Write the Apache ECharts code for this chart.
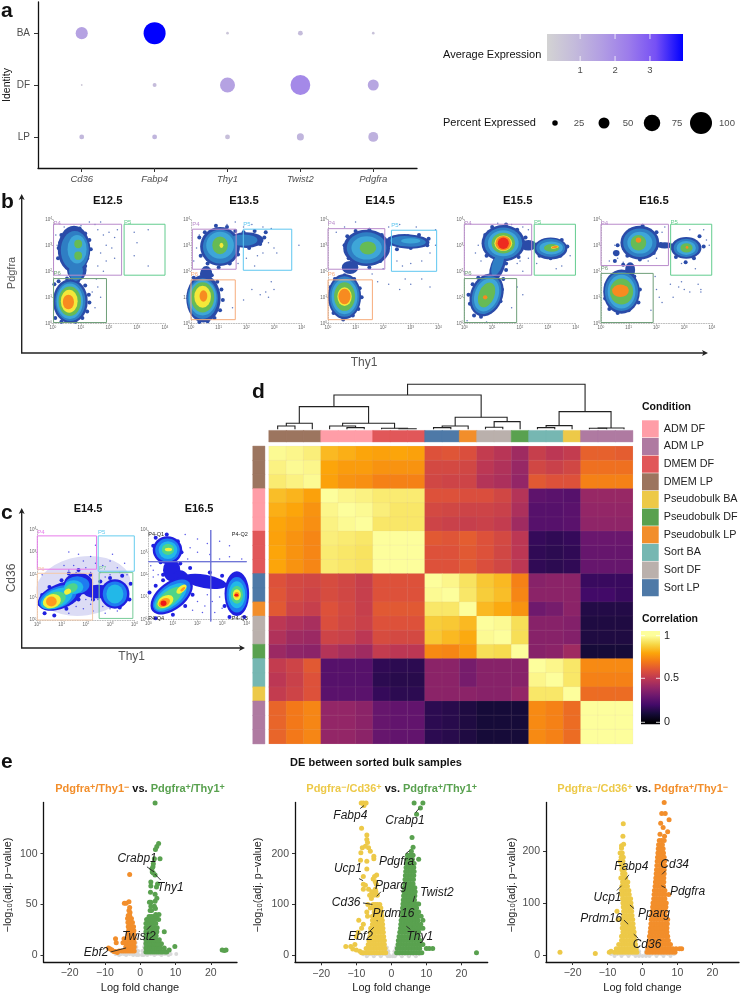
<!DOCTYPE html>
<html><head><meta charset="utf-8">
<script src="https://cdn.jsdelivr.net/npm/echarts@6/dist/echarts.min.js"></script>
<style>html,body{margin:0;padding:0;background:#fff}#c{width:741px;height:996px}</style>
</head><body><div id="c"></div>
<script>
const FONT='"Liberation Sans",Arial,sans-serif';
/* ---------- panel a ---------- */
const dotGenes=['Cd36','Fabp4','Thy1','Twist2','Pdgfra'];
const dotIdentity=['LP','DF','BA'];
const dotPercent=[[22,22,22,32,45],[8,18,68,90,50],[55,100,12,22,12]];
const dotExpression=[[0.9,1.0,0.7,1.0,1.1],[0.4,0.8,1.5,2.1,1.4],[1.5,3.95,0.5,0.8,0.6]];
const exprColors=['#D3D3D3','#C4BBDB','#B29EE3','#9C7CEB','#7650F5','#0000FF'];
const legendPercent=[25,50,75,100];
const exprTicks=[1,2,3];
/* ---------- panels b, c: flow cytometry density layers [x,y,rx,ry,rotation,level] in decades ---------- */
const facsLevels=['#8A93D6','#2A4BA8','#2F7EC4','#3EA6D8','#66BB55','#F4E83A','#F78B20','#EE2B20'];
const facsLevelsC=['#DCDCF5','#2020E0','#1E7CF0','#22B8E8','#4FD48A','#F2F23A','#FF9A1E','#F01818'];
const e125Layers=[[.62,.85,.62,.85,0,1],[.62,.85,.54,.76,0,2],[.6,.85,.47,.68,0,3],[.6,.85,.4,.57,0,4],[.58,.85,.3,.44,0,5],[.55,.82,.2,.28,0,6],
 [.75,2.85,.58,.9,0,1],[.85,2.05,.35,.42,0,1],[.78,2.8,.5,.75,0,2],[.82,2.0,.25,.36,0,2],[.86,2.85,.34,.55,0,3],[.9,3.05,.14,.16,0,4],[.9,2.6,.14,.16,0,4]];
const e135Layers=[[.45,.95,.62,.92,0,1],[.42,.95,.55,.78,0,2],[.42,.98,.5,.68,0,3],[.42,1,.42,.58,0,4],[.42,1.02,.3,.42,0,5],[.45,1.05,.14,.22,0,6],
 [1.05,2.95,.72,.75,0,1],[2,3.2,.62,.3,0,1],[.55,1.9,.22,.3,0,1],[1.05,2.95,.62,.65,0,2],[1.9,3.2,.5,.22,0,2],[1.05,3,.5,.52,0,3],[1.05,3,.28,.34,0,4],[1.1,3,.07,.1,0,5]];
const e145Layers=[[.6,1.03,.6,.87,0,1],[.6,1.03,.54,.78,0,2],[.6,1.03,.47,.68,0,3],[.6,1.03,.38,.55,0,4],[.6,1.03,.26,.36,0,5],[.6,1.03,.22,.3,0,6],
 [1.4,2.9,.85,.7,0,1],[.8,2.15,.3,.25,0,1],[2.9,3.15,.78,.28,-3,1],[1.4,2.9,.72,.6,0,2],[2.9,3.15,.65,.2,-3,2],[1.4,2.9,.55,.45,0,3],[3,3.17,.35,.1,0,3],[1.45,2.9,.3,.25,0,4]];
const e155Layers=[[1.4,3.08,.78,.7,0,1],[2.3,3,.3,.2,0,1],[1.2,2.2,.25,.62,-20,1],[.8,1.09,.58,.85,-22,1],[3.1,2.88,.6,.42,0,1],
 [1.4,3.08,.68,.6,0,2],[1.2,2.3,.18,.5,-20,2],[.8,1.09,.5,.76,-22,2],[3.1,2.9,.52,.35,0,2],
 [1.4,3.08,.55,.5,0,3],[.8,1.09,.42,.66,-22,3],[3.12,2.9,.42,.25,0,3],[1.4,3.08,.42,.4,0,4],[.8,1.09,.28,.5,-22,4],[3.14,2.9,.28,.15,0,4],
 [1.4,3.08,.32,.3,0,5],[3.25,2.93,.14,.05,10,5],[1.4,3.08,.28,.28,0,6],[.75,1,.08,.08,0,6],[3.25,2.93,.12,.04,10,6],[1.4,3.08,.2,.22,0,7]];
const e165Layers=[[.74,1.22,.66,.85,0,1],[1.4,3.1,.7,.65,0,1],[1.05,2.05,.18,.3,0,1],[2.3,3,.3,.12,0,1],[3.07,2.9,.55,.42,0,1],[.55,2.7,.12,.12,0,1],
 [.74,1.22,.6,.75,0,2],[1.4,3.1,.6,.55,0,2],[3.07,2.9,.45,.35,0,2],[.74,1.22,.5,.65,0,3],[1.4,3.1,.45,.42,0,3],[3.07,2.9,.35,.27,0,3],
 [.74,1.22,.42,.5,0,4],[1.35,3.1,.28,.3,0,4],[3.08,2.9,.22,.18,0,4],[.7,1.25,.3,.24,0,6],[.85,1.33,.12,.1,0,6],[1.35,3.2,.1,.1,0,6],[3.1,2.92,.05,.05,0,6]];
const c145Layers=[[1.9,1.5,1.95,1.3,8,0],[.95,1.05,.98,.55,22,1],[1.7,1.6,.6,.48,0,1],[2.5,1.25,.6,.3,0,1],[3.2,1.15,.6,.65,0,1],[.85,1,.82,.46,22,2],[1.65,1.55,.5,.38,0,2],[3.2,1.15,.5,.55,0,2],
 [.8,.95,.7,.4,25,3],[1.5,1.45,.4,.3,0,3],[3.2,1.15,.35,.42,0,3],[.7,.88,.5,.33,25,4],[1.4,1.4,.28,.2,25,4],[.6,.83,.38,.3,20,5],[1.25,1.25,.15,.12,25,5],[.58,.82,.22,.22,0,6]];
const c165Layers=[[.78,3.1,.6,.62,0,1],[.95,2.2,.35,.5,0,1],[1.3,1.6,.4,.6,0,1],[.95,1.05,1,.62,38,1],[2.3,1.7,.9,.3,-10,1],[3.6,1.15,.5,1,0,1],
 [.78,3.1,.5,.52,0,2],[.95,1.05,.9,.52,38,2],[3.6,1.1,.42,.8,0,2],[.8,3.1,.38,.4,0,3],[.9,1,.78,.42,38,3],[3.6,1.1,.34,.6,0,3],
 [.8,3.13,.25,.25,0,4],[.85,.95,.65,.32,38,4],[3.6,1.1,.25,.4,0,4],[.82,3.13,.15,.08,0,5],[.7,.8,.35,.25,30,5],[1.35,1.35,.25,.14,40,5],[3.6,1.1,.16,.25,0,5],
 [.65,.75,.25,.18,30,6],[1.4,1.35,.12,.06,40,6],[3.6,1.1,.1,.12,0,6],[.62,.72,.12,.12,0,7],[3.58,1.08,.08,.06,0,7]];
/* sparse events (x,y pairs) */
const e125Sparse=[1.5,3.8,1.7,3.9,1.3,3.9,1.6,3.6,1.8,3.4,2,3.5,2.2,3.3,2.3,3.6,1.9,3,2.1,2.9,1.7,2.7,2.2,2.5,1.9,2.4,.1,3.4,.15,3,.2,2.7,1.6,2.2,1.8,2,1.6,1.4,1.7,1,1.5,.6,2.9,3.5,3.4,3.6,3,3.1,2.9,2.6,3.4,2.2,1.4,1.2,1.55,1.7,.4,3.7,1,3.75];
const e135Sparse=[1.6,3.9,1.9,3.7,2.2,3.8,1.3,3.8,.9,3.75,2.6,3.7,2.9,3.65,2.8,3.1,3,2.9,3.1,2.7,2.6,2.7,2.4,2.6,2,2.5,1.7,2.3,2.3,2.2,2.9,1.6,3,1.3,2.7,1.2,2.8,1,2.5,1.1,2.2,1.3,1.9,.9,1.5,.6,3.9,3,.2,2.9,.3,3.4,.1,2.4];
const e145Sparse=[2.2,3.7,2.6,3.8,3.2,3.7,3.9,3.6,3.7,2.7,3.4,2.4,3,2.3,2.7,2.2,2.5,2.4,2.8,1.7,3,1.5,2.6,1.3,2.2,1.5,3.4,1.7,3.7,1.4,1.8,1.6,1.6,1.9,2,2.1,3.9,3,.3,3.5,.6,3.7,1,3.9];
const e155Sparse=[1.2,3.85,1.7,3.8,2.1,3.7,2.3,3.6,.5,3,.4,2.7,.6,2.4,2,2.4,2.3,2.5,2.1,2,1.9,2.3,2.6,2.3,3.5,2.2,3.3,2.1,3.8,2.6,2.1,1.1,1.7,.6,1.9,1.4,.1,.1,.8,.05];
const e165Sparse=[.6,2.5,.45,2.7,.5,3,.3,2.4,.8,2.35,1.7,2.4,2,2.5,2.2,3.5,2.3,3.7,1.8,3.6,3.2,3.6,3.7,3.6,3.8,3.2,3.9,3,2.9,2.3,3.4,2.1,2,1.3,2.1,1,2.2,.8,2.6,1,2.8,1.4,2.9,1.6,3,1.3,3.2,1.2,3.5,1.5,3.6,1.2,3.6,1.3,2.5,1.5,1.95,1.8,1.8,.5];
const c145Sparse=[1.5,2.4,1.9,2.6,2.2,2.8,1.7,2.9,2.4,2.5,2,2.3,1.3,2.2,1.1,2.4,2.7,2.4,3,2.6,3.3,2.3,3.6,2.5,3.1,2.9,1.3,3,2.4,3.3,2.2,2.1,2.6,2.1,2.8,1.9,3,2,3.4,2.1,3.7,2,2,.9,2.2,.7,2.5,.9,1.6,.6,1.9,.5,2.3,.4,2.7,.6,3,.5,3.3,.4,2.8,.3,1.3,.3,2.1,1.2,1.6,2.1,.2,2];
const c165Sparse=[1.5,3.8,2,3.6,2.4,3.4,2.9,3.5,3.3,3.3,1.7,3.2,2,3,2.5,2.9,2.9,2.7,3.3,2.8,1.6,2.7,3.8,2.7,.1,2.4,.2,2.2,.4,2,2,.8,2.3,.6,2.6,.8,2.2,.3,2.7,.3,1.8,.4,2.4,1.1,2.9,1,3,.5,.2,1.9,.3,3.7];
/* small clumps on cluster rims (x,y pairs) */
const e125Rim=[.05,1.5,.2,1.62,.5,1.72,.9,1.65,1.15,1.45,1.28,1.1,1.3,.8,1.22,.45,1.05,.2,.8,.06,.3,.06,.08,.2,.18,2.5,.2,2.9,.25,3.1,.45,3.3,.65,3.55,.95,3.65,1.15,3.45,1.3,3.2,1.35,2.85,1.22,2.5,1.15,2.2,1.1,1.95,.5,2.15,.4,2.4,.3,3.4];
const e135Rim=[.85,.2,1.05,.5,1.15,.9,1.1,1.3,.95,1.6,.75,1.85,.4,1.9,.1,1.75,.6,.08,.3,.05,.3,3.3,.5,3.5,.9,3.75,1.3,3.7,1.6,3.55,.35,2.6,.6,2.3,1,2.15,1.4,2.3,1.7,2.65,2.1,2.9,2.5,3.05,2.65,3.3,2.7,3.5,2.3,3.55,1.9,3.5];
const e145Rim=[.1,1.4,.25,1.7,.6,1.85,.95,1.7,1.15,1.35,1.22,1,1.1,.55,.9,.3,.55,.15,.2,.4,.6,3,.7,3.35,1,3.55,1.5,3.6,1.95,3.4,2.2,3,.75,2.5,1,2.25,1.5,2.15,1.9,2.4,2.4,3.3,2.9,3.35,3.3,3.4,3.65,3.25,3.6,3,3,2.9,2.5,2.85];
const e155Rim=[.75,3.4,1,3.7,1.5,3.8,1.9,3.6,2.2,3.3,2.4,3.1,.8,2.6,1.95,2.55,1.5,2.3,.9,1.8,1.4,1.7,1.5,2.05,.2,.75,.15,1.1,.3,1.5,.5,1.75,1,1.65,1.35,1.3,1.3,.85,1,.5,.6,.25,.35,.3,2.6,2.9,2.65,3.05,3,3.2,3.5,3.2,3.7,2.95,3.45,2.6,3.1,2.5,2.7,2.6];
const e165Rim=[.15,.95,.2,1.5,.45,1.85,.9,1.95,1.2,1.8,1.4,1.3,1.35,.8,1,.5,.6,.4,.3,.55,.85,3.3,1.1,3.6,1.5,3.75,2,3.5,2.15,3.05,1.9,2.7,1.4,2.45,.95,2.6,.6,3,.5,2.4,.8,2.25,2.55,2.9,2.7,3.1,3.1,3.2,3.55,3.35,3.7,2.95,3.35,2.5,3.05,2.35,2.7,2.55];
const c145Rim=[.1,.7,.2,1.1,.5,1.45,1,1.75,1.3,2.05,1.7,2.2,2.2,2,2.6,1.7,3,1.85,3.5,1.95,3.85,1.6,3.8,.9,3.4,.55,2.9,.75,2.3,.9,1.7,.9,1.2,.5,.7,.2,.3,.3];
const c165Rim=[.2,3.3,.3,3.65,.75,3.8,1.2,3.5,1.35,3,1.3,2.5,.5,2.55,.6,2,1.7,2.3,2.5,2.1,3,1.95,3.2,1.5,3.1,.6,3.3,.1,3.9,.1,.05,1.2,.3,1.5,.6,1.75,1.8,1.1,1.5,.6,1,.2,.3,.05];
/* gates: x1,y1,x2,y2,label,colour,label offset */
const purple='#B98BCB',mint='#62CC8E',dkgreen='#6F9F79',sky='#5EC6F0',peach='#F6AC7C';
const e125Gates=[[.02,1.85,2.45,3.81,'P4',purple,.05],[2.54,1.85,4,3.81,'P5',mint,.08],[.02,.03,1.91,1.72,'P6',dkgreen,.2]];
const e135Gates=[[.05,2.08,1.63,3.62,'P4',purple,.2],[1.89,2.04,3.64,3.62,'P5',sky,.2],[0,.14,1.6,1.67,'P6',peach,.2]];
const e145Gates=[[0,2.08,2.06,3.64,'P4',purple,.2],[2.3,2,3.94,3.58,'P5',sky,.2],[0,.14,1.61,1.67,'P6',peach,.2]];
const e155Gates=[[0,1.85,2.42,3.81,'P4',purple,.05],[2.51,1.85,3.99,3.81,'P5',mint,.08],[0,.03,1.88,1.72,'P6',dkgreen,.2]];
const e165Gates=[[0,2.22,2.43,3.81,'P4',purple,.05],[2.51,1.85,3.99,3.81,'P5',mint,.08],[0,.03,1.88,1.92,'P6',dkgreen,.2]];
const c145Gates=[[0,2.24,2.44,3.71,'P4','#E77BEA',.16],[2.51,2.15,4,3.71,'P5','#66CCEE',.16],[0,0,2.28,2.06,'P6','#F5C9A8',.19],[2.55,.07,3.94,2.09,'P7','#77CC99',.19]];
const c165Gates=[[2.54,-.1,2.54,4,'','#6C72D6',0],[0,2.58,4,2.58,'','#6C72D6',0]];
const c165Labels=[[.32,3.82,'P4-Q1'],[3.72,3.82,'P4-Q2'],[3.72,.04,'P4-Q3'],[.32,.04,'P4-Q4']];
/* ---------- panel d ---------- */
const conditions=['ADM DF','ADM LP','DMEM DF','DMEM LP','Pseudobulk BA','Pseudobulk DF','Pseudobulk LP','Sort BA','Sort DF','Sort LP'];
const conditionColors=['#FF9DA7','#AF7AA1','#E15759','#9C755F','#EDC948','#59A14F','#F28E2B','#76B7B2','#BAB0AC','#4E79A7'];
const sampleConditions=[3,3,3,0,0,0,2,2,2,9,9,6,8,8,5,7,7,4,1,1,1];
const correlation=[
[.99,.98,.96,.84,.82,.8,.79,.8,.79,.6,.61,.59,.52,.49,.43,.53,.5,.52,.64,.64,.63],
[.97,.99,.98,.8,.78,.78,.76,.76,.76,.57,.57,.56,.5,.47,.41,.56,.54,.56,.68,.68,.68],
[.95,.97,.99,.79,.76,.75,.72,.72,.72,.56,.55,.55,.48,.46,.4,.62,.6,.6,.72,.72,.72],
[.85,.83,.79,1,.98,.97,.95,.95,.95,.6,.6,.59,.59,.56,.48,.27,.26,.25,.41,.41,.41],
[.82,.8,.76,.98,1,.99,.96,.94,.94,.57,.56,.55,.55,.54,.46,.25,.25,.26,.4,.4,.4],
[.8,.78,.75,.97,.99,1,.94,.94,.94,.55,.54,.53,.54,.52,.43,.25,.25,.26,.39,.39,.39],
[.79,.76,.73,.96,.95,.94,1,1,1,.62,.61,.63,.6,.57,.5,.17,.16,.17,.3,.3,.3],
[.8,.76,.73,.95,.94,.93,1,1,1,.6,.6,.62,.6,.56,.5,.16,.15,.16,.29,.29,.29],
[.8,.76,.73,.95,.94,.93,1,1,1,.6,.6,.62,.59,.56,.5,.16,.15,.16,.29,.29,.29],
[.6,.57,.56,.58,.56,.53,.6,.6,.6,1,.98,.93,.87,.84,.72,.37,.38,.38,.18,.18,.18],
[.61,.57,.55,.58,.56,.53,.6,.6,.6,.99,1,.94,.88,.85,.73,.38,.38,.38,.2,.2,.18],
[.62,.55,.53,.6,.57,.53,.62,.62,.62,.94,.94,1,.84,.81,.76,.31,.33,.38,.13,.13,.13],
[.5,.47,.45,.59,.56,.54,.6,.6,.6,.88,.87,.84,1,.99,.92,.37,.37,.36,.12,.12,.12],
[.47,.43,.42,.55,.54,.5,.58,.57,.57,.87,.84,.81,.99,1,.92,.37,.37,.36,.12,.12,.12],
[.42,.39,.38,.48,.45,.43,.52,.5,.5,.74,.73,.77,.92,.91,1,.37,.38,.43,.1,.1,.1],
[.52,.55,.62,.25,.25,.25,.16,.15,.15,.38,.38,.33,.37,.37,.37,1,.98,.94,.74,.74,.74],
[.5,.54,.6,.25,.25,.25,.15,.14,.14,.38,.38,.33,.37,.37,.37,.98,1,.94,.72,.72,.72],
[.52,.55,.6,.26,.26,.26,.17,.15,.15,.38,.38,.38,.37,.37,.4,.94,.94,1,.67,.67,.67],
[.65,.7,.73,.4,.4,.38,.29,.28,.28,.15,.14,.12,.1,.1,.1,.74,.72,.67,1,1,1],
[.65,.7,.73,.4,.4,.38,.29,.28,.28,.15,.14,.12,.1,.1,.1,.74,.72,.67,1,1,1],
[.65,.7,.73,.4,.4,.38,.29,.28,.28,.15,.14,.12,.1,.1,.1,.74,.72,.67,1,1,1]];
const inferno=['#000004','#160B39','#420A68','#6A176E','#932667','#BC3754','#DD513A','#F37819','#FCA50A','#F6D746','#FDFE9C'];
/* merges: left, right, height; non-negative = leaf, negative = -(merge index+1) */
const dendroMerges=[[0,1,10],[-1,2,18],[4,5,5],[3,-3,10],[7,8,1.5],[6,-5,3],[-4,-6,18],[-2,-7,68],[9,10,5],[-9,11,10],[12,13,6],[-11,14,23],[-10,-12,36],[-8,-13,103],[15,16,5],[-15,17,11],[18,19,3],[-17,20,4],[-16,-18,53],[-14,-19,135]];
/* ---------- panel e: rows are [y, x, x, x ...] ---------- */
const v1Gray=[[1,-7,-6.2,-5.4,-4.6,-3.8,-3,-2.2,-1.4,-.8,.8,1.4,2.2,3,3.8,4.6,5.4,6.2,7,7.8,8.6,10.2],[0,-6,-4,-2,-1,-.5,.5,1,2,4,6,8],[4,-1.4,-1,-.6,.6,1,1.4],[8,-1.4,-1.1,1.1,1.4],[12,-1.3,1.3]];
const v1Orange=[[4,-1.7,-2.3,-2.9,-3.5,-4.1,-4.7,-5.3,-6],[8,-1.7,-2.3,-2.9,-3.5,-4.1],[12,-1.7,-2.3,-2.9,-3.5,-4.2,-4.9,-6.8],[16,-1.7,-2.3,-2.9,-3.5,-4.6,-7],[20,-1.8,-2.3,-2.9,-3.4],[24,-1.8,-2.4,-2.9,-3.3],[28,-1.9,-2.4,-3,-3.4],[32,-2.2,-2.7,-3.2,-3.5],[36,-2.5,-3.1,-3.6],[39,-3.4,-3],[42,-2.9],[44,-3.2],[47,-3],[51,-4.5,-4],[52.5,-3.2],[79.5,-3],[7,-9],[6,-8.5],[5,-8],[3.5,-7,-7.5],[2.5,-6.5]];
const v1Green=[[3,1.6,2.2,2.8,3.4,4,4.6,5.2,5.8,6.3,7,7.5],[7,1.6,2.2,2.8,3.4,4,4.6,5.2,5.7,6.8],[11,1.6,2.2,2.8,3.4,4,4.6,5.3,6],[15,1.6,2.2,2.8,3.4,4,4.6,5.4],[19,1.6,2.2,2.8,3.4,4,4.5],[23,1.6,2.2,2.8,3.4,4,4.7,6.8],[27,1.6,2.2,2.8,3.4,4.1,4.8],[31,1.6,2.2,2.8,3.4,4,4.4],[35,1.8,2.4,3,3.6,4.2,5.2],[38,2.5,3.1,3.7,4.6],[40,4.4,5.3],[44,2.8,3.2],[46,4.3],[48,3,4],[52,3,2.6],[53,4.2],[56,4.7],[60,4.2],[62,2.9],[67,4.6],[68,3],[70,4.9],[72,3],[79,4.2],[81,3.7],[82,3.4],[85,3.3],[87,3.6],[90,3.7],[95,4,5.6],[104,4.3],[107,4.7],[110,5.2],[150,4.2],[8.5,9.8],[5,8.2,23.2,24.3],[4.5,23.8]];
const v2Gray=[[2,-8,-7.1,-6.2,-5.3,-4.4,-3.5,-2.6,-1.7,-.8,.8,1.7,2.6,3.5,4.4,5.3,6.2,7.1,8],[-2,-7,-5,-3,-1,-.4,.4,1,3,5,7],[8,-1.4,-.9,.9,1.4],[15,-1.3,1.3]];
const v2Yellow=[[5,-1.6,-2.4,-3.2,-4,-4.8,-5.6,-6.4,-7.2,-8,-8.5],[13,-1.8,-2.6,-3.4,-4.2,-5,-5.8,-6.6,-7.2],[21,-2,-2.8,-3.6,-4.4,-5.2,-6,-6.6,-10.4],[29,-2,-2.8,-3.6,-4.4,-5.2,-6,-6.4],[37,-2.2,-3,-3.8,-4.6,-5.4,-6.1,-10],[45,-2.3,-3,-3.8,-4.6,-5.3,-6,-9.5],[53,-2.4,-3.1,-3.9,-4.7,-5.4,-5.9,-8.5],[61,-2.5,-3.2,-4,-4.7,-5.4,-8],[69,-2.6,-3.3,-4.1,-4.8,-5.4,-9.3],[77,-2.7,-3.4,-4.2,-4.9,-5.4,-6.8],[85,-2.8,-3.5,-4.2,-4.9,-7],[93,-3,-3.6,-4.3,-4.9,-6],[100,-3.3,-4,-4.6,-5.2,-6.7],[17,-13,-11.6],[12,-11],[10,-10],[8,-9],[112,-5.7],[118,-5,-4,-6.2],[125,-5.6,-4.4],[130,-8,-6.5,-4.6],[138,-7.4],[140,-8,-4.3],[145,-4.6],[150,-5.2],[155,-8,-4.8],[158,-4.2],[170,-7],[185,-7],[187,-8.8],[190,-5],[195,-5],[202,-8.7],[205,-6],[212,-8.3,-6.5],[215,-7.4],[222,-6.8],[228,-7],[237,-7],[250,-8.5],[295,-7.8],[300,-8.6,-8,-7.2]];
const v2Green=[[5,1.5,2.3,3.1,3.9,4.7,5.5,6.3,7.1,7.9,8.7,24.3],[13,1.7,2.5,3.3,4.1,4.9,5.7,6.5,7.3,8.1,10,10.8,11.8],[21,1.9,2.7,3.5,4.3,5.1,5.9,6.7,7.5,8.3,9],[29,2,2.8,3.6,4.4,5.2,6,6.8,7.6,8.2],[37,2.2,3,3.8,4.6,5.4,6.2,7,7.7],[45,2.4,3.2,4,4.8,5.6,6.4,7.2,7.8],[53,2.6,3.4,4.2,5,5.8,6.6,7.4,8.2,9],[61,2.7,3.5,4.3,5.1,5.9,6.7,7.5,8.4],[69,2.8,3.6,4.4,5.2,6,6.8,7.6,9],[77,3,3.8,4.6,5.4,6.2,7,7.6,8.5],[85,3.1,3.9,4.7,5.5,6.3,7.1,7.8],[93,3.2,4,4.8,5.6,6.4,7.2],[101,3.3,4.1,4.9,5.7,6.5,7.3,7.8],[109,3.4,4.2,5,5.8,6.6],[117,3.5,4.3,5.1,5.9,6.7],[125,3.6,4.4,5.2,6,6.8],[133,3.7,4.5,5.3,6.1,6.7],[141,3.8,4.6,5.4,6.2],[149,3.9,4.7,5.5,6.3],[157,4,4.8,5.6,6.4],[165,4.1,4.9,5.7,6.5],[173,4.2,5,5.8,6.4],[181,4.3,5.1,5.9,6.5],[189,4.4,5.2,6,7.8],[197,4.6,5.4,6.2,5.2],[205,5.7],[213,6.2],[232,5.9],[278,7.2],[290,8.3],[300,6.5,9]];
const v3Gray=[[2,-9,-8.1,-7.2,-6.3,-5.4,-4.5,-3.6,-2.7,-1.8,-.9,.9,1.8,2.7,3.6,4.5,5.4,6.3,7.2,8.1,9],[-2,-8,-6,-4,-2,-1,0,1,2,4,6,8],[7,-1.4,-1,1,1.2]];
const v3Yellow=[[5,-1.6,-2.4,-3.2,-4,-4.8,-5.6,-6.4,-7.2,-8,-9.5,-23.6],[12,-1.8,-2.6,-3.4,-4.2,-5,-5.8,-6.6,-7.5],[20,-2,-2.8,-3.6,-4.4,-5.2,-6,-6.8],[28,-2.1,-2.9,-3.7,-4.5,-5.3,-6],[36,-2.3,-3.1,-3.9,-4.7,-5.5,-6],[44,-2.4,-3.2,-4,-4.8,-5.6],[52,-2.6,-3.4,-4.2,-5,-5.8],[60,-2.7,-3.5,-4.3,-5.1,-5.7],[68,-2.8,-3.6,-4.4,-5.2,-5.7,-7],[76,-3,-3.8,-4.6,-5.4],[84,-3.1,-3.9,-4.7,-5.4,-7.3],[92,-3.2,-4,-4.8,-5.5],[100,-3.3,-4.1,-4.9,-5.6],[108,-3.4,-4.2,-5,-5.7],[116,-3.8,-4.6,-5.4,-6],[124,-3.9,-4.7,-5.5,-6],[132,-4.3,-5.1,-5.9],[140,-4.2,-4.9,-5.7],[148,-4.8,-5.5,-6.2],[156,-5,-5.7],[164,-5.2,-5.9],[172,-5.4,-6],[180,-5.6,-6.4],[188,-5.5,-6.1],[196,-5.8,-6.4],[205,-6],[210,-6],[213,-5.4],[228,-5.6],[252,-5.5],[3,-13.5],[7,-9]];
const v3Orange=[[5,1.3,2.1,2.9,3.7,4.5,5.3,6.1,6.9,7.7,8.5,9.3],[12,1.5,2.3,3.1,3.9,4.7,5.5,6.3,7.1,7.9,8.7,9.6,10.6,11.2],[20,1.7,2.5,3.3,4.1,4.9,5.7,6.5,7.3,8],[28,1.9,2.7,3.5,4.3,5.1,5.9,6.7,7.4],[36,2,2.8,3.6,4.4,5.2,6,6.8,7.2],[44,2.2,3,3.8,4.6,5.4,6.2,7],[52,2.3,3.1,3.9,4.7,5.5,6.3,7],[60,2.4,3.2,4,4.8,5.6,6.4,7.1],[68,2.5,3.3,4.1,4.9,5.7,6.5,7.2],[76,2.6,3.4,4.2,5,5.8,6.5],[84,2.8,3.6,4.4,5.2,6,6.6],[92,2.9,3.7,4.5,5.3,6.1,6.7],[100,3,3.8,4.6,5.4,6.2,6.8],[108,3.2,4,4.8,5.6,6.4],[116,3.3,4.1,4.9,5.7,6.5,7.5],[124,3.4,4.2,5,5.8,6.4],[132,3.6,4.4,5.2,6],[140,3.7,4.5,5.3,6.1],[148,3.8,4.6,5.4,6.1],[156,3.9,4.7,5.5,6.2],[164,4,4.8,5.6,6.2],[172,4.1,4.9,5.7,6.3],[180,4.2,5,5.8,6.3],[188,4.3,5.1,5.9,6.2],[196,4.4,5.2,6],[204,4.5,5.3,5.9],[212,4.6,5.4,5.7],[220,4.8,5.5,6.2],[228,6.3],[232,5],[237,7.2],[245,5.9],[253,5.2],[260,7.6],[272,5.5,6.5],[293,6.2]];
/* labels: text, label x, label y, leader x1,y1,x2,y2 */
const v1Labels=[['Crabp1',-.9,94.7,1.9,87,3.9,82],['Thy1',8.5,66.8,5.8,74,4.1,80],['Twist2',-.4,18,1.9,25,3,29],['Ebf2',-12.5,2,-8.4,3,-4,7]];
const v2Labels=[['Fabp4',-11.7,276,-8.9,289,-7.8,295],['Crabp1',3.9,266,6.9,281,7.9,289],['Pdgfra',1.5,184,4.1,200,5.2,206],['Ucp1',-12.4,171,-9.2,151,-8.1,147],['Pparg',-.1,138,-3,125,-4.2,116],['Twist2',13,124,6.7,117,6.2,105],['Cd36',-12.9,103,-8.1,103,-5.4,100],['Prdm16',.6,82,-4.1,69,-4,67],['Ebf2',-8.8,36,-6.2,47,-5,55],['Thy1',8.1,36,4.3,57,5.4,51]];
const v3Labels=[['Fabp4',-3.2,170,-3.9,154,-4.9,145],['Cd34',9.2,174,6.6,162,5.6,155],['Pdgfra',12.9,122,6.6,129,5.4,133],['Ucp1',-10,110,-7.3,124,-6,133],['Pparg',3.3,80,-2.4,89,-3.6,96],['Prdm16',-11.8,70,-5.3,67,-4.1,59],['Cd36',1.3,19,-1.2,32,-2.5,40]];
const foldTicks=[-20,-10,0,10,20];

/* ---------- build ---------- */
const grid=[],xAxis=[],yAxis=[],series=[],graphic=[],visualMap=[];
const tick='#333',lab='#4d4d4d',black='#111';
function addGrid(g,x,y){grid.push({...g,containLabel:false});xAxis.push({gridIndex:grid.length-1,...x});yAxis.push({gridIndex:grid.length-1,...y});return grid.length-1;}
function text(t,x,y,o={}){graphic.push({type:'text',x,y,rotation:o.rot||0,silent:true,z:50,style:{text:t,fontFamily:FONT,fontSize:o.size||11,fontWeight:o.weight||'normal',fontStyle:o.style||'normal',fill:o.color||black,align:o.align||'left',verticalAlign:o.v||'middle',rich:o.rich}});}
function polyline(p,w=1,c='#222'){graphic.push({type:'polyline',silent:true,z:40,shape:{points:p},style:{stroke:c,lineWidth:w,fill:null}});}
function rect(x,y,w,h,fill){graphic.push({type:'rect',silent:true,z:40,shape:{x,y,width:w,height:h},style:{fill}});}
function arrowAxes(x0,y0,yTop,xEnd){polyline([[x0,yTop+3],[x0,y0],[xEnd-3,y0]],1.4);
 graphic.push({type:'polygon',silent:true,z:41,shape:{points:[[x0-3,yTop+6],[x0,yTop],[x0+3,yTop+6],[x0,yTop+4.5]]},style:{fill:'#222'}});
 graphic.push({type:'polygon',silent:true,z:41,shape:{points:[[xEnd-6,y0-3],[xEnd,y0],[xEnd-6,y0+3],[xEnd-4.5,y0]]},style:{fill:'#222'}});}
function rows(r){const out=[];r.forEach(a=>{for(let i=1;i<a.length;i++)out.push([a[i],a[0]]);});return out;}
function pairs(f){const o=[];for(let i=0;i<f.length;i+=2)o.push([f[i],f[i+1]]);return o;}

/* panel a */
const ga=addGrid({left:38,top:2,width:379,height:166},
 {type:'value',min:-.6,max:4.6,axisLine:{onZero:false,lineStyle:{color:black,width:1.3}},axisTick:{customValues:[0,1,2,3,4],length:4,lineStyle:{color:tick}},splitLine:{show:false},
  axisLabel:{customValues:[0,1,2,3,4],formatter:v=>dotGenes[v],fontFamily:FONT,fontStyle:'italic',fontSize:9.5,color:lab,margin:6}},
 {type:'value',min:-.6,max:2.6,axisLine:{onZero:false,lineStyle:{color:black,width:1.3}},axisTick:{customValues:[0,1,2],length:4,lineStyle:{color:tick}},splitLine:{show:false},
  axisLabel:{customValues:[0,1,2],formatter:v=>dotIdentity[v],fontFamily:FONT,fontSize:10,color:lab,margin:8}});
const dotData=[];dotIdentity.forEach((_,r)=>dotGenes.forEach((_,c)=>dotData.push([c,r,dotPercent[r][c],dotExpression[r][c]])));
series.push({type:'scatter',xAxisIndex:ga,yAxisIndex:ga,data:dotData,symbolSize:v=>v[2]*.22,silent:true,itemStyle:{opacity:1}});
visualMap.push({show:false,type:'continuous',seriesIndex:0,dimension:3,min:.05,max:3.95,inRange:{color:exprColors}});
text('Identity',7,85,{rot:Math.PI/2,align:'center',size:10.5});
text('a',1,11,{size:21,weight:'bold'});
text('Average Expression',443,55,{size:11});
graphic.push({type:'rect',silent:true,z:40,shape:{x:547,y:34,width:136,height:27},style:{fill:new echarts.graphic.LinearGradient(0,0,1,0,exprColors.map((c,i)=>({offset:i/5,color:c})))}});
exprTicks.forEach(t=>{const x=547+(t-.05)*34.9;polyline([[x,34],[x,39]],.8,'#fff');polyline([[x,56],[x,61]],.8,'#fff');text(String(t),x,70,{size:9.5,align:'center',color:lab});});
text('Percent Expressed',443,123,{size:11});
const legendDotX=[555,604,652,701],legendTextX=[579,628,677,727];
legendPercent.forEach((p,i)=>{graphic.push({type:'circle',silent:true,z:40,shape:{cx:legendDotX[i],cy:123,r:p*.11},style:{fill:'#000'}});text(String(p),legendTextX[i],123,{size:9.5,align:'center',color:lab});});

/* flow plots */
function facs(g,layers,sparse,rim,gates,pal,extraLabels){
 const px=g.width/4,py=g.height/4;
 const axis=(s)=>({type:'value',min:0,max:4,interval:1,splitLine:{show:false},axisLine:{onZero:false,lineStyle:{color:'#bdbdbd',type:[1,1.5],width:1}},axisTick:{length:1.5,lineStyle:{color:'#bbb'}},
  axisLabel:{fontFamily:FONT,fontSize:4.5,color:'#666',margin:s,formatter:v=>'10{s|'+v+'}',rich:{s:{fontSize:3.2,fill:'#666',verticalAlign:'top'}}}});
 const gi=addGrid(g,axis(2),axis(1));
 series.push({type:'scatter',xAxisIndex:gi,yAxisIndex:gi,data:pairs(sparse),symbolSize:1.5,itemStyle:{color:pal[1],opacity:.75},silent:true,z:3});
 const ord=layers.slice().sort((a,b)=>a[5]-b[5]);
 series.push({type:'scatter',xAxisIndex:gi,yAxisIndex:gi,silent:true,z:2,progressive:0,clip:true,itemStyle:{opacity:1},
  data:ord.filter(l=>l[5]===0).map(l=>({value:[l[0],l[1]],symbolSize:[2*l[2]*px,2*l[3]*py],symbolRotate:l[4],itemStyle:{color:pal[0],opacity:1}}))});
 series.push({type:'scatter',xAxisIndex:gi,yAxisIndex:gi,data:pairs(rim),symbolSize:4,itemStyle:{color:pal[1],opacity:1},silent:true,z:2.5,clip:true});
 series.push({type:'scatter',xAxisIndex:gi,yAxisIndex:gi,silent:true,z:2.7,progressive:0,clip:true,itemStyle:{opacity:1},
  data:ord.filter(l=>l[5]>0).map(l=>({value:[l[0],l[1]],symbolSize:[2*l[2]*px,2*l[3]*py],symbolRotate:l[4],itemStyle:{color:pal[l[5]],opacity:1}}))});
 series.push({type:'custom',xAxisIndex:gi,yAxisIndex:gi,silent:true,z:4,clip:false,data:gates.map((_,i)=>[i]),renderItem:(p,api)=>{const r=gates[p.dataIndex];const a=api.coord([r[0],r[3]]),b=api.coord([r[2],r[1]]);
   return {type:'group',children:[{type:'rect',shape:{x:a[0],y:a[1],width:b[0]-a[0],height:b[1]-a[1]},style:{stroke:r[5],fill:null,lineWidth:1}},
    {type:'text',x:a[0]+3.5,y:a[1]-r[6]*py,style:{text:r[4],fill:r[5],fontSize:6,fontFamily:FONT,align:'center',verticalAlign:'middle'}}]};}});
 if(extraLabels)series.push({type:'custom',xAxisIndex:gi,yAxisIndex:gi,silent:true,z:5,clip:false,data:extraLabels.map((_,i)=>[i]),renderItem:(p,api)=>{const r=extraLabels[p.dataIndex];const a=api.coord([r[0],r[1]]);
   return {type:'text',x:a[0],y:a[1],style:{text:r[2],fill:'#222',fontSize:5.5,fontFamily:FONT,align:'center',verticalAlign:'middle'}};}});
}
facs({left:53,top:219.3,width:112,height:104},e125Layers,e125Sparse,e125Rim,e125Gates,facsLevels);
facs({left:191,top:219.3,width:110.7,height:104},e135Layers,e135Sparse,e135Rim,e135Gates,facsLevels);
facs({left:328,top:219.3,width:110.3,height:104},e145Layers,e145Sparse,e145Rim,e145Gates,facsLevels);
facs({left:464.3,top:219.3,width:111.4,height:104},e155Layers,e155Sparse,e155Rim,e155Gates,facsLevels);
facs({left:601,top:219.3,width:111,height:104},e165Layers,e165Sparse,e165Rim,e165Gates,facsLevels);
facs({left:37.3,top:529.3,width:97,height:90.7},c145Layers,c145Sparse,c145Rim,c145Gates,facsLevelsC);
facs({left:148.3,top:530,width:98.4,height:89.3},c165Layers,c165Sparse,c165Rim,c165Gates,facsLevelsC,c165Labels);
[['E12.5',107.7],['E13.5',244],['E14.5',380],['E15.5',517.7],['E16.5',654]].forEach(t=>text(t[0],t[1],201,{size:11.3,weight:'bold',align:'center'}));
arrowAxes(21.7,353,194,708);
text('Pdgfra',11.7,273,{rot:Math.PI/2,align:'center',size:11,color:'#555'});
text('Thy1',364,363,{align:'center',size:12,color:'#555'});
text('b',1,202,{size:21,weight:'bold'});
[['E14.5',88],['E16.5',199]].forEach(t=>text(t[0],t[1],508.7,{size:11,weight:'bold',align:'center'}));
arrowAxes(21.7,648,508,245);
text('Cd36',11.7,578,{rot:Math.PI/2,align:'center',size:12,color:'#555'});
text('Thy1',131.7,657,{align:'center',size:12,color:'#555'});
text('c',1,513,{size:21,weight:'bold'});

/* panel d */
const hidden=o=>({show:false,...o});
const gh=addGrid({left:269,top:446.3,width:363.7,height:297.4},hidden({type:'category',data:sampleConditions.map((_,i)=>i)}),hidden({type:'category',inverse:true,data:sampleConditions.map((_,i)=>i)}));
const heat=[];correlation.forEach((r,i)=>r.forEach((v,j)=>heat.push([j,i,v])));
series.push({type:'heatmap',xAxisIndex:gh,yAxisIndex:gh,data:heat,silent:true,itemStyle:{borderColor:'rgba(205,170,170,.18)',borderWidth:.5},progressive:0});
visualMap.push({show:false,type:'continuous',seriesIndex:series.length-1,dimension:2,min:0,max:1,inRange:{color:inferno}});
const gt=addGrid({left:269,top:430.7,width:363.7,height:11},hidden({type:'category',data:sampleConditions.map((_,i)=>i)}),hidden({type:'category',data:[0]}));
series.push({type:'heatmap',xAxisIndex:gt,yAxisIndex:gt,silent:true,progressive:0,data:sampleConditions.map((c,i)=>({value:[i,0,c],itemStyle:{color:conditionColors[c],borderColor:conditionColors[c],borderWidth:.4}}))});
const gl=addGrid({left:253,top:446.3,width:11.7,height:297.4},hidden({type:'category',data:[0]}),hidden({type:'category',inverse:true,data:sampleConditions.map((_,i)=>i)}));
series.push({type:'heatmap',xAxisIndex:gl,yAxisIndex:gl,silent:true,progressive:0,data:sampleConditions.map((c,i)=>({value:[0,i,c],itemStyle:{color:conditionColors[c],borderColor:conditionColors[c],borderWidth:.4}}))});
const gd=addGrid({left:269,top:384.3,width:363.7,height:45},hidden({type:'value',min:-.5,max:20.5}),hidden({type:'value',min:0,max:135}));
const nodes=[];const ref=a=>a>=0?[a,0]:nodes[-a-1];
const dendro=dendroMerges.map(m=>{const l=ref(m[0]),r=ref(m[1]);nodes.push([(l[0]+r[0])/2,m[2]]);return [l[0],l[1],r[0],r[1],m[2]];});
series.push({type:'custom',xAxisIndex:gd,yAxisIndex:gd,silent:true,clip:false,data:dendro,renderItem:(p,api)=>{const v=i=>api.value(i);
 return {type:'polyline',shape:{points:[api.coord([v(0),v(1)]),api.coord([v(0),v(4)]),api.coord([v(2),v(4)]),api.coord([v(2),v(3)])]},style:{stroke:'#222',lineWidth:1.1,fill:null}};}});
text('d',252,392,{size:21,weight:'bold'});
text('Condition',642,407,{size:10.5,weight:'bold'});
conditions.forEach((c,i)=>{const y=420.3+i*17.65;rect(642,y,16.7,17.1,conditionColors[i]);text(c,663.7,y+8.5,{size:10.8,color:'#222'});});
text('Correlation',642,619,{size:10.5,weight:'bold'});
graphic.push({type:'rect',silent:true,z:40,shape:{x:641,y:631,width:19,height:93.3},style:{fill:new echarts.graphic.LinearGradient(0,0,0,1,[{offset:0,color:'#FDFE9C'}].concat(inferno.slice().reverse().map((c,i)=>({offset:(4.7+i*8.66)/93.3,color:c})),[{offset:1,color:'#000004'}]))}});
[['1',635.7],['0.5',678.3],['0',722.3]].forEach(t=>{polyline([[641,t[1]],[645,t[1]]],.8,'#fff');polyline([[656,t[1]],[660,t[1]]],.8,'#fff');text(t[0],664,t[1],{size:10.8,color:'#222'});});

/* panel e */
function volcano(g,xMax,yMin,yMax,yTicks,gray,neg,pos,negC,posC,labels){
 const style={onZero:false,lineStyle:{color:black,width:1.3}};
 const gi=addGrid(g,
  {type:'value',min:-xMax,max:xMax,axisLine:style,splitLine:{show:false},axisTick:{customValues:foldTicks,length:3,lineStyle:{color:tick}},
   axisLabel:{customValues:foldTicks,formatter:v=>String(v).replace('-','−'),fontFamily:FONT,fontSize:10.5,color:lab,margin:6}},
  {type:'value',min:yMin,max:yMax,axisLine:style,splitLine:{show:false},axisTick:{customValues:yTicks,length:3,lineStyle:{color:tick}},
   axisLabel:{customValues:yTicks,fontFamily:FONT,fontSize:10.5,color:lab,margin:6}});
 [[gray,'#D9D9D9',4],[neg,negC,5],[pos,posC,5]].forEach(s=>series.push({type:'scatter',xAxisIndex:gi,yAxisIndex:gi,data:rows(s[0]),symbolSize:s[2],itemStyle:{color:s[1],opacity:1},silent:true,progressive:0,clip:false}));
 series.push({type:'custom',xAxisIndex:gi,yAxisIndex:gi,silent:true,clip:false,z:6,data:labels.map((_,i)=>[i]),renderItem:(p,api)=>{const r=labels[p.dataIndex];const t=api.coord([r[1],r[2]]),a=api.coord([r[3],r[4]]),b=api.coord([r[5],r[6]]);
  return {type:'group',children:[{type:'line',shape:{x1:a[0],y1:a[1],x2:b[0],y2:b[1]},style:{stroke:'#222',lineWidth:.9}},
   {type:'text',x:t[0],y:t[1],style:{text:r[0],fill:'#1a1a1a',fontSize:12,fontStyle:'italic',fontFamily:FONT,align:'center',verticalAlign:'middle'}}]};}});
 return gi;
}
volcano({left:43.5,top:802.5,width:193.5,height:159.5},27.4,-6.9,150.5,[0,50,100],v1Gray,v1Orange,v1Green,'#F28E2B','#59A14F',v1Labels);
volcano({left:295,top:802.5,width:192.7,height:159.8},27.5,-14,301,[0,100,200],v2Gray,v2Yellow,v2Green,'#EDC948','#59A14F',v2Labels);
volcano({left:546,top:802.5,width:193,height:159.5},27.6,-13.5,293,[0,100,200],v3Gray,v3Yellow,v3Orange,'#EDC948','#F28E2B',v3Labels);
const titleRich=(c1,c2)=>({a:{fontFamily:FONT,fontWeight:'bold',fontSize:11,fill:c1},as:{fontFamily:FONT,fontWeight:'bold',fontSize:9,fill:c1,verticalAlign:'top'},k:{fontFamily:FONT,fontWeight:'bold',fontSize:11,fill:'#111'},b:{fontFamily:FONT,fontWeight:'bold',fontSize:11,fill:c2},bs:{fontFamily:FONT,fontWeight:'bold',fontSize:9,fill:c2,verticalAlign:'top'}});
text('{a|Pdgfra}{as|+}{a|/Thy1}{as|−} {k|vs.} {b|Pdgfra}{bs|+}{b|/Thy1}{bs|+}',140,789,{align:'center',rich:titleRich('#F28E2B','#59A14F')});
text('{a|Pdgfra}{as|−}{a|/Cd36}{as|+} {k|vs.} {b|Pdgfra}{bs|+}{b|/Thy1}{bs|+}',391.7,789,{align:'center',rich:titleRich('#EDC948','#59A14F')});
text('{a|Pdgfra}{as|−}{a|/Cd36}{as|+} {k|vs.} {b|Pdgfra}{bs|+}{b|/Thy1}{bs|−}',642.7,789,{align:'center',rich:titleRich('#EDC948','#F28E2B')});
text('DE between sorted bulk samples',376,763,{size:11,weight:'bold',align:'center'});
text('e',1,762,{size:21,weight:'bold'});
[[140,8],[391.5,258],[642.5,511.7]].forEach(c=>{
 text('Log fold change',c[0],988,{size:11,align:'center',color:'#222'});
 text('{a|−log}{b|10}{a|(adj. p−value)}',c[1],885,{rot:Math.PI/2,align:'center',rich:{a:{fontFamily:FONT,fontSize:10.8,fill:'#222'},b:{fontFamily:FONT,fontSize:7.5,fill:'#222',verticalAlign:'bottom'}}});
});

const chart=echarts.init(document.getElementById('c'),null,{renderer:'canvas',width:741,height:996});
chart.setOption({animation:false,backgroundColor:'#fff',textStyle:{fontFamily:FONT},tooltip:{show:false},grid,xAxis,yAxis,series,visualMap,graphic:{elements:graphic}});
</script></body></html>
